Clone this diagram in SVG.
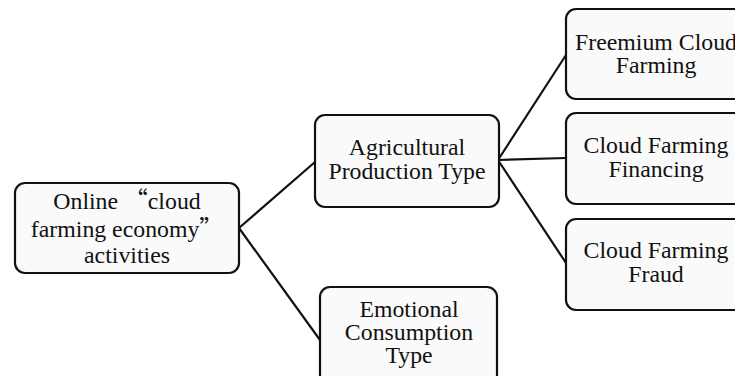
<svg xmlns="http://www.w3.org/2000/svg" width="735" height="376" viewBox="0 0 735 376">
<style>
.box{fill:#fafafa;stroke:#111;stroke-width:2.2}
.t{font-family:"Liberation Serif","Times New Roman",serif;font-size:23.8px;fill:#111;text-anchor:middle}
.q{font-family:"Noto Sans CJK SC",sans-serif}
.c{fill:none;stroke:#111;stroke-width:2.2}
</style>
<rect width="735" height="376" fill="#ffffff"/>
<g id="connectors">
<line class="c" x1="239" y1="228" x2="315" y2="162"/>
<line class="c" x1="239" y1="228" x2="320" y2="340"/>
<line class="c" x1="498" y1="160" x2="566" y2="55"/>
<line class="c" x1="498" y1="160" x2="566" y2="158"/>
<line class="c" x1="498" y1="160" x2="566" y2="263"/>
</g>
<g id="root">
<rect class="box" x="15" y="183" width="224" height="90" rx="10"/>
<text class="t" x="127" y="209">Online <tspan class="q">“</tspan>cloud</text>
<text class="t" x="127" y="237">farming economy<tspan class="q">”</tspan></text>
<text class="t" x="127" y="263">activities</text>
</g>
<g id="agricultural">
<rect class="box" x="315" y="115" width="184" height="92" rx="10"/>
<text class="t" x="407" y="155">Agricultural</text>
<text class="t" x="407" y="179">Production Type</text>
</g>
<g id="emotional">
<rect class="box" x="320" y="287" width="177" height="100" rx="10"/>
<text class="t" x="409" y="317">Emotional</text>
<text class="t" x="409" y="340">Consumption</text>
<text class="t" x="409" y="363">Type</text>
</g>
<g id="freemium">
<rect class="box" x="566" y="9" width="180" height="90" rx="10"/>
<text class="t" x="656" y="50">Freemium Cloud</text>
<text class="t" x="656" y="73">Farming</text>
</g>
<g id="financing">
<rect class="box" x="566" y="113" width="180" height="91" rx="10"/>
<text class="t" x="656" y="153">Cloud Farming</text>
<text class="t" x="656" y="177">Financing</text>
</g>
<g id="fraud">
<rect class="box" x="566" y="219" width="180" height="91" rx="10"/>
<text class="t" x="656" y="258">Cloud Farming</text>
<text class="t" x="656" y="282">Fraud</text>
</g>
</svg>
